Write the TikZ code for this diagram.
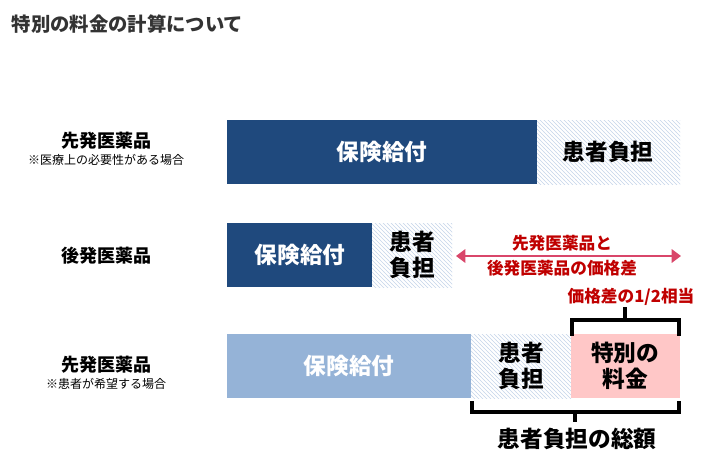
\documentclass[tikz,border=0pt]{standalone}
\usepackage{fontspec}
\setmainfont{Noto Sans CJK JP}
\usetikzlibrary{patterns,arrows.meta}
\definecolor{dblue}{HTML}{1F497D}
\definecolor{lblue}{HTML}{95B3D7}
\definecolor{hatchc}{HTML}{C5D5EA}
\definecolor{pinkc}{HTML}{FFC7C7}
\definecolor{redc}{HTML}{C00000}
\definecolor{arrc}{HTML}{D9466A}
\begin{document}
\begin{tikzpicture}[x=0.75pt,y=-0.75pt,
  darkbar/.style={text=white,font=\fontsize{17}{19}\selectfont\bfseries},
  hatchbar/.style={text=black,font=\fontsize{17}{20}\selectfont\bfseries,align=center},
  lab/.style={font=\fontsize{13.5}{15}\selectfont\bfseries},
  note/.style={font=\fontsize{9}{10}\selectfont},
  redt/.style={text=redc,font=\fontsize{12.5}{14}\selectfont\bfseries,align=center},
  brk/.style={line width=2.4pt,black}]
\useasboundingbox (0,0) rectangle (718,468);
\fill[white] (0,0) rectangle (718,468);
\node[anchor=west,font=\fontsize{14.5}{16}\selectfont\bfseries,text=black!80] (title) at (7,24) {特別の料金の計算について};
% row 1
\fill[dblue] (227,120) rectangle (537,184);
\fill[pattern={north west lines},pattern color=hatchc] (537,120) rectangle (680,184);
\node[darkbar] (r1a) at (382,152) {保険給付};
\node[hatchbar] (r1b) at (608,152) {患者負担};
\node[lab] (l1) at (106,141) {先発医薬品};
\node[note] (n1) at (106,160) {※医療上の必要性がある場合};
% row 2
\fill[dblue] (227,223) rectangle (372,287);
\fill[pattern={north west lines},pattern color=hatchc] (372,223) rectangle (452,287);
\node[darkbar] (r2a) at (300,255) {保険給付};
\node[hatchbar] (r2b) at (412,255) {患者\\負担};
\node[lab] (l2) at (106,256) {後発医薬品};
\coordinate (aL) at (456,256);
\coordinate (aR) at (681,256);
\draw[arrc,line width=2pt,{Triangle[length=7pt,width=10pt]}-{Triangle[length=7pt,width=10pt]}] (aL) -- (aR);
\node[redt,fill=white,inner sep=1pt] (d1) at (562,243) {先発医薬品と};
\node[redt,fill=white,inner sep=1pt] (d2) at (562,268) {後発医薬品の価格差};
% row 3
\fill[lblue] (227,334) rectangle (471,398);
\fill[pattern={north west lines},pattern color=hatchc] (471,334) rectangle (571,398);
\fill[pinkc] (571,334) rectangle (680,398);
\node[darkbar] (r3a) at (349,366) {保険給付};
\node[hatchbar] (r3b) at (521,366) {患者\\負担};
\node[hatchbar] (r3c) at (625,366) {特別の\\料金};
\node[lab] (l3) at (106,365) {先発医薬品};
\node[note] (n3) at (106,384) {※患者が希望する場合};
% top bracket
\coordinate (tb1) at (572,336);
\coordinate (tb2) at (679,336);
\coordinate (tbm) at (625,320);
\draw[brk] (tb1) -- (572,320) -- (679,320) -- (tb2);
\draw[brk] (tbm) -- (625,307);
\node[redt] (half) at (631,297) {価格差の1/2相当};
% bottom bracket
\draw[brk] (472,401) -- (472,412) -- (679,412) -- (679,401);
\draw[brk] (575,412) -- (575,422);
\node[font=\fontsize{17}{19}\selectfont\bfseries] (tot) at (577,439) {患者負担の総額};
\end{tikzpicture}
\end{document}
